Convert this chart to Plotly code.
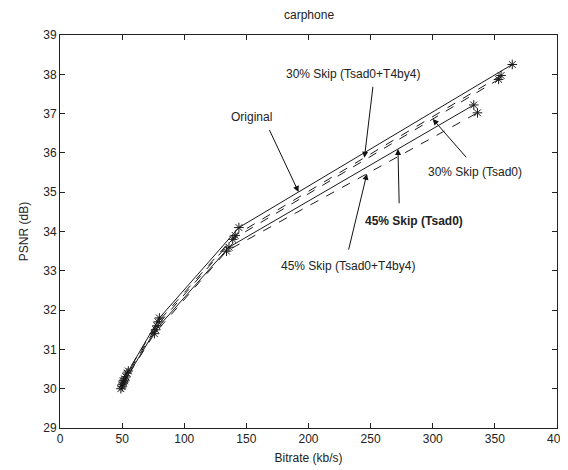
import numpy as np
import plotly.graph_objects as go

# ---- data ----
series_names = ["Original", "30% Skip (Tsad0+T4by4)", "30% Skip (Tsad0)",
                "45% Skip (Tsad0)", "45% Skip (Tsad0+T4by4)"]
bitrate_original = [52, 55, 80, 144, 364]
psnr_original = [30.25, 30.45, 31.8, 34.1, 38.25]
bitrate_30_t4 = [51, 54, 79, 141, 355]
psnr_30_t4 = [30.2, 30.4, 31.7, 33.9, 37.97]
bitrate_30_tsad = [50, 53, 78, 139, 353]
psnr_30_tsad = [30.1, 30.3, 31.6, 33.8, 37.87]
bitrate_45_tsad = [50, 52, 77, 136, 333]
psnr_45_tsad = [30.05, 30.2, 31.5, 33.6, 37.22]
bitrate_45_t4 = [49, 51, 76, 134, 336]
psnr_45_t4 = [30.0, 30.15, 31.4, 33.5, 37.02]

x_ticks = [0, 50, 100, 150, 200, 250, 300, 350, 400]
y_ticks = [29, 30, 31, 32, 33, 34, 35, 36, 37, 38, 39]

xs = [bitrate_original, bitrate_30_t4, bitrate_30_tsad, bitrate_45_tsad, bitrate_45_t4]
ys = [psnr_original, psnr_30_t4, psnr_30_tsad, psnr_45_tsad, psnr_45_t4]
dashes = ["solid", "dash", "dash", "solid", "dash"]

FONT = "Liberation Sans, Arial, sans-serif"

fig = go.Figure()
for name, x, y, d in zip(series_names, xs, ys, dashes):
    fig.add_trace(go.Scatter(
        x=x, y=y, name=name, mode="lines+markers",
        line=dict(color="#1a1a1a", width=1, dash=d),
        marker=dict(symbol="asterisk-open", size=8,
                    line=dict(color="#555555", width=1)),
        showlegend=False))

def line_y(i, xv):
    return float(np.interp(xv, xs[i], ys[i]))

# (label, text_x, text_y, tail_x, tail_y, series index, head_x, bold)
labels = [
    ("Original", 154, 36.92, 168, 36.62, 0, 192, False),
    ("30% Skip (Tsad0+T4by4)", 236, 38.0, 252, 37.72, 1, 245, False),
    ("30% Skip (Tsad0)", 334, 35.52, 328, 35.85, 2, 300, False),
    ("45% Skip (Tsad0)", 285, 34.28, 273, 34.68, 3, 272, True),
    ("45% Skip (Tsad0+T4by4)", 232, 33.12, 232, 33.5, 4, 247, False),
]
for lab, tx, ty, ax_, ay_, si, hx, bold in labels:
    fig.add_annotation(x=tx, y=ty, text=("<b>%s</b>" % lab) if bold else lab,
                       showarrow=False, font=dict(family=FONT, size=12, color="#222"))
    fig.add_annotation(x=hx, y=line_y(si, hx), ax=ax_, ay=ay_,
                       axref="x", ayref="y", xref="x", yref="y", text="",
                       showarrow=True, arrowhead=2, arrowsize=1.2, arrowwidth=1,
                       arrowcolor="#111")

axis_common = dict(showgrid=False, zeroline=False, showline=True, linecolor="#222",
                   linewidth=1, mirror="ticks", ticks="inside", ticklen=5,
                   tickcolor="#222", automargin=False,
                   tickfont=dict(family=FONT, size=12, color="#222"))

fig.update_layout(
    width=568, height=470,
    margin=dict(l=52, r=19, t=27, b=50),
    paper_bgcolor="white", plot_bgcolor="white",
    title=dict(text="carphone", x=0.53, xanchor="center", y=0.985, yanchor="middle",
               font=dict(family=FONT, size=12, color="#222")),
    xaxis=dict(range=[0, 400], tickvals=x_ticks,
               title=dict(text="Bitrate (kb/s)", standoff=8,
                          font=dict(family=FONT, size=12, color="#222")),
               **axis_common),
    yaxis=dict(range=[29, 39], tickvals=y_ticks,
               title=dict(text="PSNR (dB)", standoff=12,
                          font=dict(family=FONT, size=12, color="#222")),
               **axis_common),
)

fig.write_html("out.html")
